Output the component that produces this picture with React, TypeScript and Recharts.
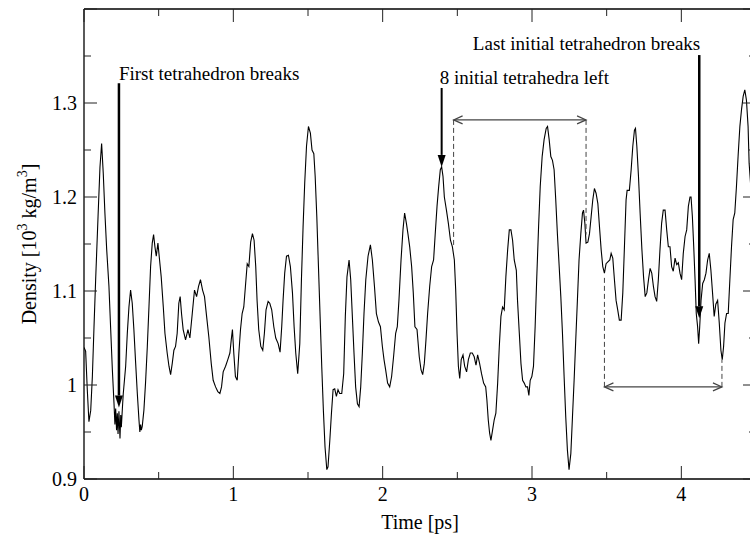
import { Label, Line, LineChart, ReferenceLine, XAxis, YAxis } from "recharts";

// time [ps] and density [10^3 kg/m^3]
const time = [
  0, 0.011, 0.022, 0.033, 0.045, 0.056, 0.067, 0.078, 0.094, 0.107, 0.118, 0.129, 0.14, 0.152, 0.167, 0.178,
  0.19, 0.201, 0.207, 0.212, 0.218, 0.223, 0.228, 0.234, 0.241, 0.246, 0.25, 0.257, 0.263, 0.279, 0.29, 0.301,
  0.312, 0.323, 0.334, 0.346, 0.357, 0.368, 0.374, 0.379, 0.384, 0.39, 0.401, 0.412, 0.424, 0.435, 0.446, 0.457,
  0.466, 0.475, 0.484, 0.495, 0.506, 0.517, 0.531, 0.542, 0.557, 0.569, 0.58, 0.591, 0.602, 0.613, 0.624, 0.635,
  0.644, 0.653, 0.664, 0.68, 0.696, 0.709, 0.725, 0.74, 0.754, 0.767, 0.78, 0.794, 0.807, 0.821, 0.836, 0.852,
  0.865, 0.881, 0.896, 0.91, 0.921, 0.932, 0.948, 0.963, 0.977, 0.986, 0.994, 1.003, 1.014, 1.026, 1.037, 1.048,
  1.059, 1.07, 1.081, 1.093, 1.104, 1.116, 1.128, 1.139, 1.15, 1.159, 1.17, 1.184, 1.197, 1.208, 1.219, 1.233,
  1.244, 1.257, 1.271, 1.284, 1.3, 1.313, 1.324, 1.333, 1.344, 1.356, 1.369, 1.382, 1.396, 1.407, 1.418, 1.431,
  1.445, 1.456, 1.467, 1.478, 1.49, 1.503, 1.516, 1.527, 1.539, 1.548, 1.559, 1.57, 1.581, 1.592, 1.603, 1.614,
  1.626, 1.634, 1.646, 1.657, 1.668, 1.679, 1.69, 1.701, 1.712, 1.726, 1.739, 1.75, 1.761, 1.775, 1.786, 1.797,
  1.808, 1.819, 1.831, 1.842, 1.853, 1.864, 1.875, 1.887, 1.902, 1.918, 1.931, 1.945, 1.958, 1.972, 1.985, 1.998,
  2.009, 2.02, 2.033, 2.047, 2.06, 2.073, 2.087, 2.098, 2.109, 2.123, 2.136, 2.147, 2.159, 2.17, 2.181, 2.194,
  2.205, 2.216, 2.23, 2.245, 2.257, 2.268, 2.279, 2.29, 2.301, 2.315, 2.328, 2.341, 2.352, 2.364, 2.375, 2.386,
  2.395, 2.404, 2.413, 2.427, 2.44, 2.454, 2.467, 2.48, 2.489, 2.498, 2.507, 2.516, 2.526, 2.538, 2.549, 2.562,
  2.574, 2.587, 2.6, 2.613, 2.625, 2.636, 2.649, 2.662, 2.676, 2.69, 2.698, 2.707, 2.716, 2.725, 2.736, 2.747,
  2.758, 2.77, 2.781, 2.792, 2.803, 2.814, 2.825, 2.837, 2.848, 2.859, 2.87, 2.881, 2.895, 2.903, 2.915, 2.926,
  2.937, 2.948, 2.959, 2.97, 2.979, 2.988, 2.999, 3.01, 3.021, 3.032, 3.044, 3.055, 3.068, 3.081, 3.095, 3.104,
  3.115, 3.126, 3.137, 3.148, 3.159, 3.17, 3.181, 3.193, 3.204, 3.215, 3.226, 3.237, 3.248, 3.26, 3.271, 3.282,
  3.293, 3.304, 3.315, 3.327, 3.338, 3.345, 3.354, 3.362, 3.374, 3.385, 3.396, 3.407, 3.418, 3.429, 3.441, 3.452,
  3.463, 3.474, 3.485, 3.496, 3.508, 3.521, 3.53, 3.541, 3.552, 3.563, 3.574, 3.585, 3.597, 3.608, 3.619, 3.63,
  3.637, 3.652, 3.664, 3.675, 3.686, 3.693, 3.702, 3.713, 3.724, 3.736, 3.747, 3.758, 3.769, 3.78, 3.791, 3.802,
  3.813, 3.824, 3.835, 3.846, 3.857, 3.868, 3.879, 3.891, 3.902, 3.913, 3.924, 3.935, 3.946, 3.958, 3.969, 3.98,
  3.991, 4.002, 4.013, 4.025, 4.036, 4.047, 4.058, 4.065, 4.074, 4.083, 4.092, 4.1, 4.109, 4.116, 4.123, 4.132,
  4.143, 4.154, 4.165, 4.176, 4.187, 4.198, 4.209, 4.22, 4.231, 4.243, 4.254, 4.265, 4.274, 4.283, 4.292, 4.303,
  4.314, 4.325, 4.336, 4.347, 4.358, 4.369, 4.381, 4.392, 4.403, 4.414, 4.425, 4.436, 4.447, 4.454, 4.47, 4.5,
];

const density = [
  1.04, 1.036, 0.995, 0.961, 0.973, 1.009, 1.062, 1.112, 1.179, 1.232, 1.257, 1.225, 1.183, 1.144, 1.105, 1.062,
  1.016, 0.98, 0.958, 0.975, 0.952, 0.97, 0.948, 0.972, 0.943, 0.968, 0.955, 0.975, 0.991, 1.02, 1.055, 1.083,
  1.101, 1.087, 1.059, 1.023, 0.991, 0.963, 0.95, 0.958, 0.952, 0.956, 0.973, 1.002, 1.041, 1.083, 1.126, 1.151,
  1.16, 1.147, 1.137, 1.151, 1.133, 1.115, 1.083, 1.055, 1.034, 1.02, 1.011, 1.023, 1.037, 1.041, 1.055, 1.087,
  1.094, 1.076, 1.059, 1.048, 1.059, 1.05, 1.076, 1.101, 1.094, 1.105, 1.112, 1.101, 1.094, 1.073, 1.051, 1.023,
  1.005, 0.998, 0.993, 0.991, 0.998, 1.014, 1.02, 1.027, 1.034, 1.048, 1.059, 1.034, 1.009, 1.005, 1.034, 1.059,
  1.076, 1.083, 1.105, 1.129, 1.126, 1.152, 1.161, 1.154, 1.126, 1.09, 1.059, 1.041, 1.037, 1.055, 1.08, 1.089,
  1.087, 1.08, 1.062, 1.05, 1.044, 1.035, 1.062, 1.09, 1.119, 1.137, 1.138, 1.126, 1.098, 1.062, 1.034, 1.012,
  1.044, 1.112, 1.168, 1.215, 1.254, 1.275, 1.268, 1.25, 1.246, 1.222, 1.179, 1.126, 1.073, 1.02, 0.973, 0.934,
  0.91, 0.913, 0.941, 0.97, 0.995, 0.996, 0.988, 0.995, 0.991, 0.991, 1.012, 1.073, 1.115, 1.133, 1.112, 1.073,
  1.034, 0.998, 0.98, 0.977, 0.998, 1.034, 1.076, 1.112, 1.137, 1.149, 1.133, 1.105, 1.076, 1.067, 1.062, 1.041,
  1.027, 1.016, 1.002, 0.998, 1.009, 1.03, 1.055, 1.062, 1.09, 1.133, 1.165, 1.183, 1.172, 1.16, 1.147, 1.126,
  1.098, 1.062, 1.059, 1.03, 1.016, 1.011, 1.023, 1.048, 1.076, 1.105, 1.126, 1.133, 1.161, 1.19, 1.211, 1.229,
  1.232, 1.222, 1.2, 1.186, 1.172, 1.154, 1.147, 1.133, 1.101, 1.055, 1.02, 1.007, 1.027, 1.032, 1.02, 1.014,
  1.027, 1.034, 1.034, 1.03, 1.021, 1.032, 1.023, 1.012, 1.002, 0.998, 0.984, 0.963, 0.949, 0.941, 0.952, 0.963,
  0.97, 1.002, 1.041, 1.073, 1.083, 1.08, 1.115, 1.144, 1.165, 1.165, 1.154, 1.133, 1.122, 1.09, 1.055, 1.023,
  1.005, 1.002, 0.998, 0.998, 0.989, 1.005, 1.009, 1.02, 1.062, 1.115, 1.168, 1.211, 1.243, 1.261, 1.273, 1.275,
  1.261, 1.243, 1.239, 1.229, 1.197, 1.161, 1.129, 1.094, 1.055, 1.009, 0.966, 0.931, 0.91, 0.927, 0.966, 1.005,
  1.048, 1.09, 1.133, 1.161, 1.183, 1.186, 1.172, 1.151, 1.152, 1.161, 1.179, 1.197, 1.209, 1.204, 1.193, 1.168,
  1.144, 1.126, 1.119, 1.129, 1.131, 1.133, 1.14, 1.135, 1.112, 1.09, 1.08, 1.069, 1.069, 1.098, 1.147, 1.197,
  1.207, 1.207, 1.229, 1.254, 1.271, 1.273, 1.254, 1.222, 1.183, 1.144, 1.115, 1.094, 1.098, 1.112, 1.124, 1.119,
  1.105, 1.094, 1.089, 1.112, 1.144, 1.172, 1.186, 1.186, 1.165, 1.147, 1.147, 1.126, 1.121, 1.135, 1.128, 1.13,
  1.119, 1.112, 1.14, 1.158, 1.165, 1.19, 1.2, 1.2, 1.179, 1.147, 1.112, 1.076, 1.062, 1.044, 1.062, 1.09,
  1.108, 1.112, 1.119, 1.133, 1.14, 1.122, 1.098, 1.073, 1.086, 1.09, 1.066, 1.037, 1.027, 1.041, 1.066, 1.076,
  1.076, 1.112, 1.147, 1.176, 1.183, 1.211, 1.246, 1.275, 1.293, 1.307, 1.314, 1.303, 1.275, 1.236, 1.2, 1.17,
];

const xTicks = [0, 0.5, 1, 1.5, 2, 2.5, 3, 3.5, 4, 4.5];
const xLabelled = [0, 1, 2, 3, 4];
const yTicks = [0.9, 0.95, 1, 1.05, 1.1, 1.15, 1.2, 1.25, 1.3, 1.35, 1.4];
const yLabelled = [0.9, 1, 1.1, 1.2, 1.3];

const rows = time.map((t, i) => ({ t, density: density[i] }));

const FONT = "'Liberation Serif', 'DejaVu Serif', serif";
const INK = "#000";
const GREY = "#444";

const isMajorX = (v: number) => Math.abs(v - Math.round(v)) < 1e-6;
const isMajorY = (v: number) => Math.round(v * 100) % 10 === 0;

function BottomTick({ x, y, payload }: any) {
  const v = payload.value as number;
  const len = isMajorX(v) ? 13 : 7;
  return (
    <g>
      <line x1={x} y1={y} x2={x} y2={y - len} stroke="#222" strokeWidth={1} />
      {xLabelled.includes(v) && (
        <text x={x} y={y + 22} textAnchor="middle" fontFamily={FONT} fontSize={20} fill={INK}>
          {v}
        </text>
      )}
    </g>
  );
}

function TopTick({ x, y, payload }: any) {
  const len = isMajorX(payload.value) ? 13 : 7;
  return <line x1={x} y1={y} x2={x} y2={y + len} stroke="#222" strokeWidth={1} />;
}

function LeftTick({ x, y, payload }: any) {
  const v = payload.value as number;
  const len = isMajorY(v) ? 13 : 7;
  return (
    <g>
      <line x1={x} y1={y} x2={x + len} y2={y} stroke="#222" strokeWidth={1} />
      {yLabelled.some((l) => Math.abs(l - v) < 1e-6) && (
        <text x={x - 7} y={y + 7} textAnchor="end" fontFamily={FONT} fontSize={20} fill={INK}>
          {v === 1 ? "1" : v.toFixed(1)}
        </text>
      )}
    </g>
  );
}

function RightTick({ x, y, payload }: any) {
  const len = isMajorY(payload.value) ? 13 : 7;
  return <line x1={x} y1={y} x2={x - len} y2={y} stroke="#222" strokeWidth={1} />;
}

function DensityLabel({ viewBox }: any) {
  const cy = viewBox ? viewBox.y + viewBox.height / 2 : 244;
  const cx = 36;
  return (
    <text
      x={cx}
      y={cy}
      transform={`rotate(-90, ${cx}, ${cy})`}
      textAnchor="middle"
      fontFamily={FONT}
      fontSize={20}
      fill={INK}
    >
      Density [10
      <tspan dy={-9} fontSize={14}>3</tspan>
      <tspan dy={9}> kg/m</tspan>
      <tspan dy={-9} fontSize={14}>3</tspan>
      <tspan dy={9}>]</tspan>
    </text>
  );
}

// vertical arrow with a filled head and its caption above the tail
function captionArrow(text: string, anchor: "start" | "end", dx: number, dy: number, width: number) {
  return (p: any) => {
    const { x1, y1, x2, y2 } = p;
    const len = Math.hypot(x2 - x1, y2 - y1) || 1;
    const ux = (x2 - x1) / len;
    const uy = (y2 - y1) / len;
    const L = 12;
    const W = 4;
    const bx = x2 - ux * L;
    const by = y2 - uy * L;
    return (
      <g>
        <line x1={x1} y1={y1} x2={bx} y2={by} stroke={INK} strokeWidth={width} />
        <polygon
          points={`${x2},${y2} ${bx - uy * W},${by + ux * W} ${bx + uy * W},${by - ux * W}`}
          fill={INK}
        />
        <text x={x1 + dx} y={y1 + dy} textAnchor={anchor} fontFamily={FONT} fontSize={19} fill={INK}>
          {text}
        </text>
      </g>
    );
  };
}

// horizontal span with open heads at both ends
function spanArrow(p: any) {
  const { x1, y1, x2, y2 } = p;
  const L = 9;
  const W = 4;
  return (
    <g fill="none" stroke={GREY} strokeWidth={1.2}>
      <line x1={x1} y1={y1} x2={x2} y2={y2} />
      <polyline points={`${x1 + L},${y1 - W} ${x1},${y1} ${x1 + L},${y1 + W}`} />
      <polyline points={`${x2 - L},${y2 - W} ${x2},${y2} ${x2 - L},${y2 + W}`} />
    </g>
  );
}

const firstBreak = { t: 0.234, top: 1.321, tip: 0.976 };
const eightLeft = { t: 2.395, top: 1.316, tip: 1.232 };
const lastBreak = { t: 4.12, top: 1.351, tip: 1.071 };
const span1 = { from: 2.475, to: 3.362, level: 1.282, leftEnd: 1.147, rightEnd: 1.16 };
const span2 = { from: 3.485, to: 4.272, level: 0.998, leftEnd: 1.117, rightEnd: 1.027 };

export default function App() {
  return (
    <div
      style={{
        position: "fixed",
        left: 0,
        top: 0,
        width: 750,
        height: 539,
        overflow: "hidden",
        background: "#fff",
      }}
    >
      <LineChart width={770} height={539} data={rows} margin={{ top: 0, right: 0, bottom: 0, left: 0 }}>
        <XAxis
          dataKey="t"
          type="number"
          domain={[0, 4.5]}
          ticks={xTicks}
          interval={0}
          allowDataOverflow
          height={60}
          tickSize={0}
          tickMargin={0}
          tickLine={false}
          tick={BottomTick}
          axisLine={{ stroke: INK, strokeWidth: 1.3 }}
        >
          <Label
            value="Time [ps]"
            position="insideBottom"
            offset={10}
            style={{ fontFamily: FONT, fontSize: 20, fill: INK }}
          />
        </XAxis>
        <XAxis
          xAxisId="top"
          orientation="top"
          dataKey="t"
          type="number"
          domain={[0, 4.5]}
          ticks={xTicks}
          interval={0}
          allowDataOverflow
          height={9}
          tickSize={0}
          tickMargin={0}
          tickLine={false}
          tick={TopTick}
          axisLine={{ stroke: INK, strokeWidth: 1.3 }}
        />
        <YAxis
          type="number"
          domain={[0.9, 1.4]}
          ticks={yTicks}
          interval={0}
          allowDataOverflow
          width={84}
          tickSize={0}
          tickMargin={0}
          tickLine={false}
          tick={LeftTick}
          axisLine={{ stroke: INK, strokeWidth: 1.3 }}
        >
          <Label content={DensityLabel} />
        </YAxis>
        <YAxis
          yAxisId="right"
          orientation="right"
          type="number"
          domain={[0.9, 1.4]}
          ticks={yTicks}
          interval={0}
          allowDataOverflow
          width={14}
          tickSize={0}
          tickMargin={0}
          tickLine={false}
          tick={RightTick}
          axisLine={{ stroke: INK, strokeWidth: 1.3 }}
        />
        <Line
          type="linear"
          dataKey="density"
          stroke={INK}
          strokeWidth={1.1}
          dot={false}
          activeDot={false}
          isAnimationActive={false}
        />

        <ReferenceLine
          segment={[{ x: span1.from, y: span1.level }, { x: span1.from, y: span1.leftEnd }]}
          stroke={GREY}
          strokeDasharray="5 3"
        />
        <ReferenceLine
          segment={[{ x: span1.to, y: span1.level }, { x: span1.to, y: span1.rightEnd }]}
          stroke={GREY}
          strokeDasharray="5 3"
        />
        <ReferenceLine
          segment={[{ x: span1.from, y: span1.level }, { x: span1.to, y: span1.level }]}
          shape={spanArrow}
        />
        <ReferenceLine
          segment={[{ x: span2.from, y: span2.level }, { x: span2.from, y: span2.leftEnd }]}
          stroke={GREY}
          strokeDasharray="5 3"
        />
        <ReferenceLine
          segment={[{ x: span2.to, y: span2.level }, { x: span2.to, y: span2.rightEnd }]}
          stroke={GREY}
          strokeDasharray="5 3"
        />
        <ReferenceLine
          segment={[{ x: span2.from, y: span2.level }, { x: span2.to, y: span2.level }]}
          shape={spanArrow}
        />

        <ReferenceLine
          segment={[{ x: firstBreak.t, y: firstBreak.top }, { x: firstBreak.t, y: firstBreak.tip }]}
          shape={captionArrow("First tetrahedron breaks", "start", 0, -3, 2.5)}
        />
        <ReferenceLine
          segment={[{ x: eightLeft.t, y: eightLeft.top }, { x: eightLeft.t, y: eightLeft.tip }]}
          shape={captionArrow("8 initial tetrahedra left", "start", -2, -4, 2)}
        />
        <ReferenceLine
          segment={[{ x: lastBreak.t, y: lastBreak.top }, { x: lastBreak.t, y: lastBreak.tip }]}
          shape={captionArrow("Last initial tetrahedron breaks", "end", 1, -5, 2.5)}
        />
      </LineChart>
    </div>
  );
}
